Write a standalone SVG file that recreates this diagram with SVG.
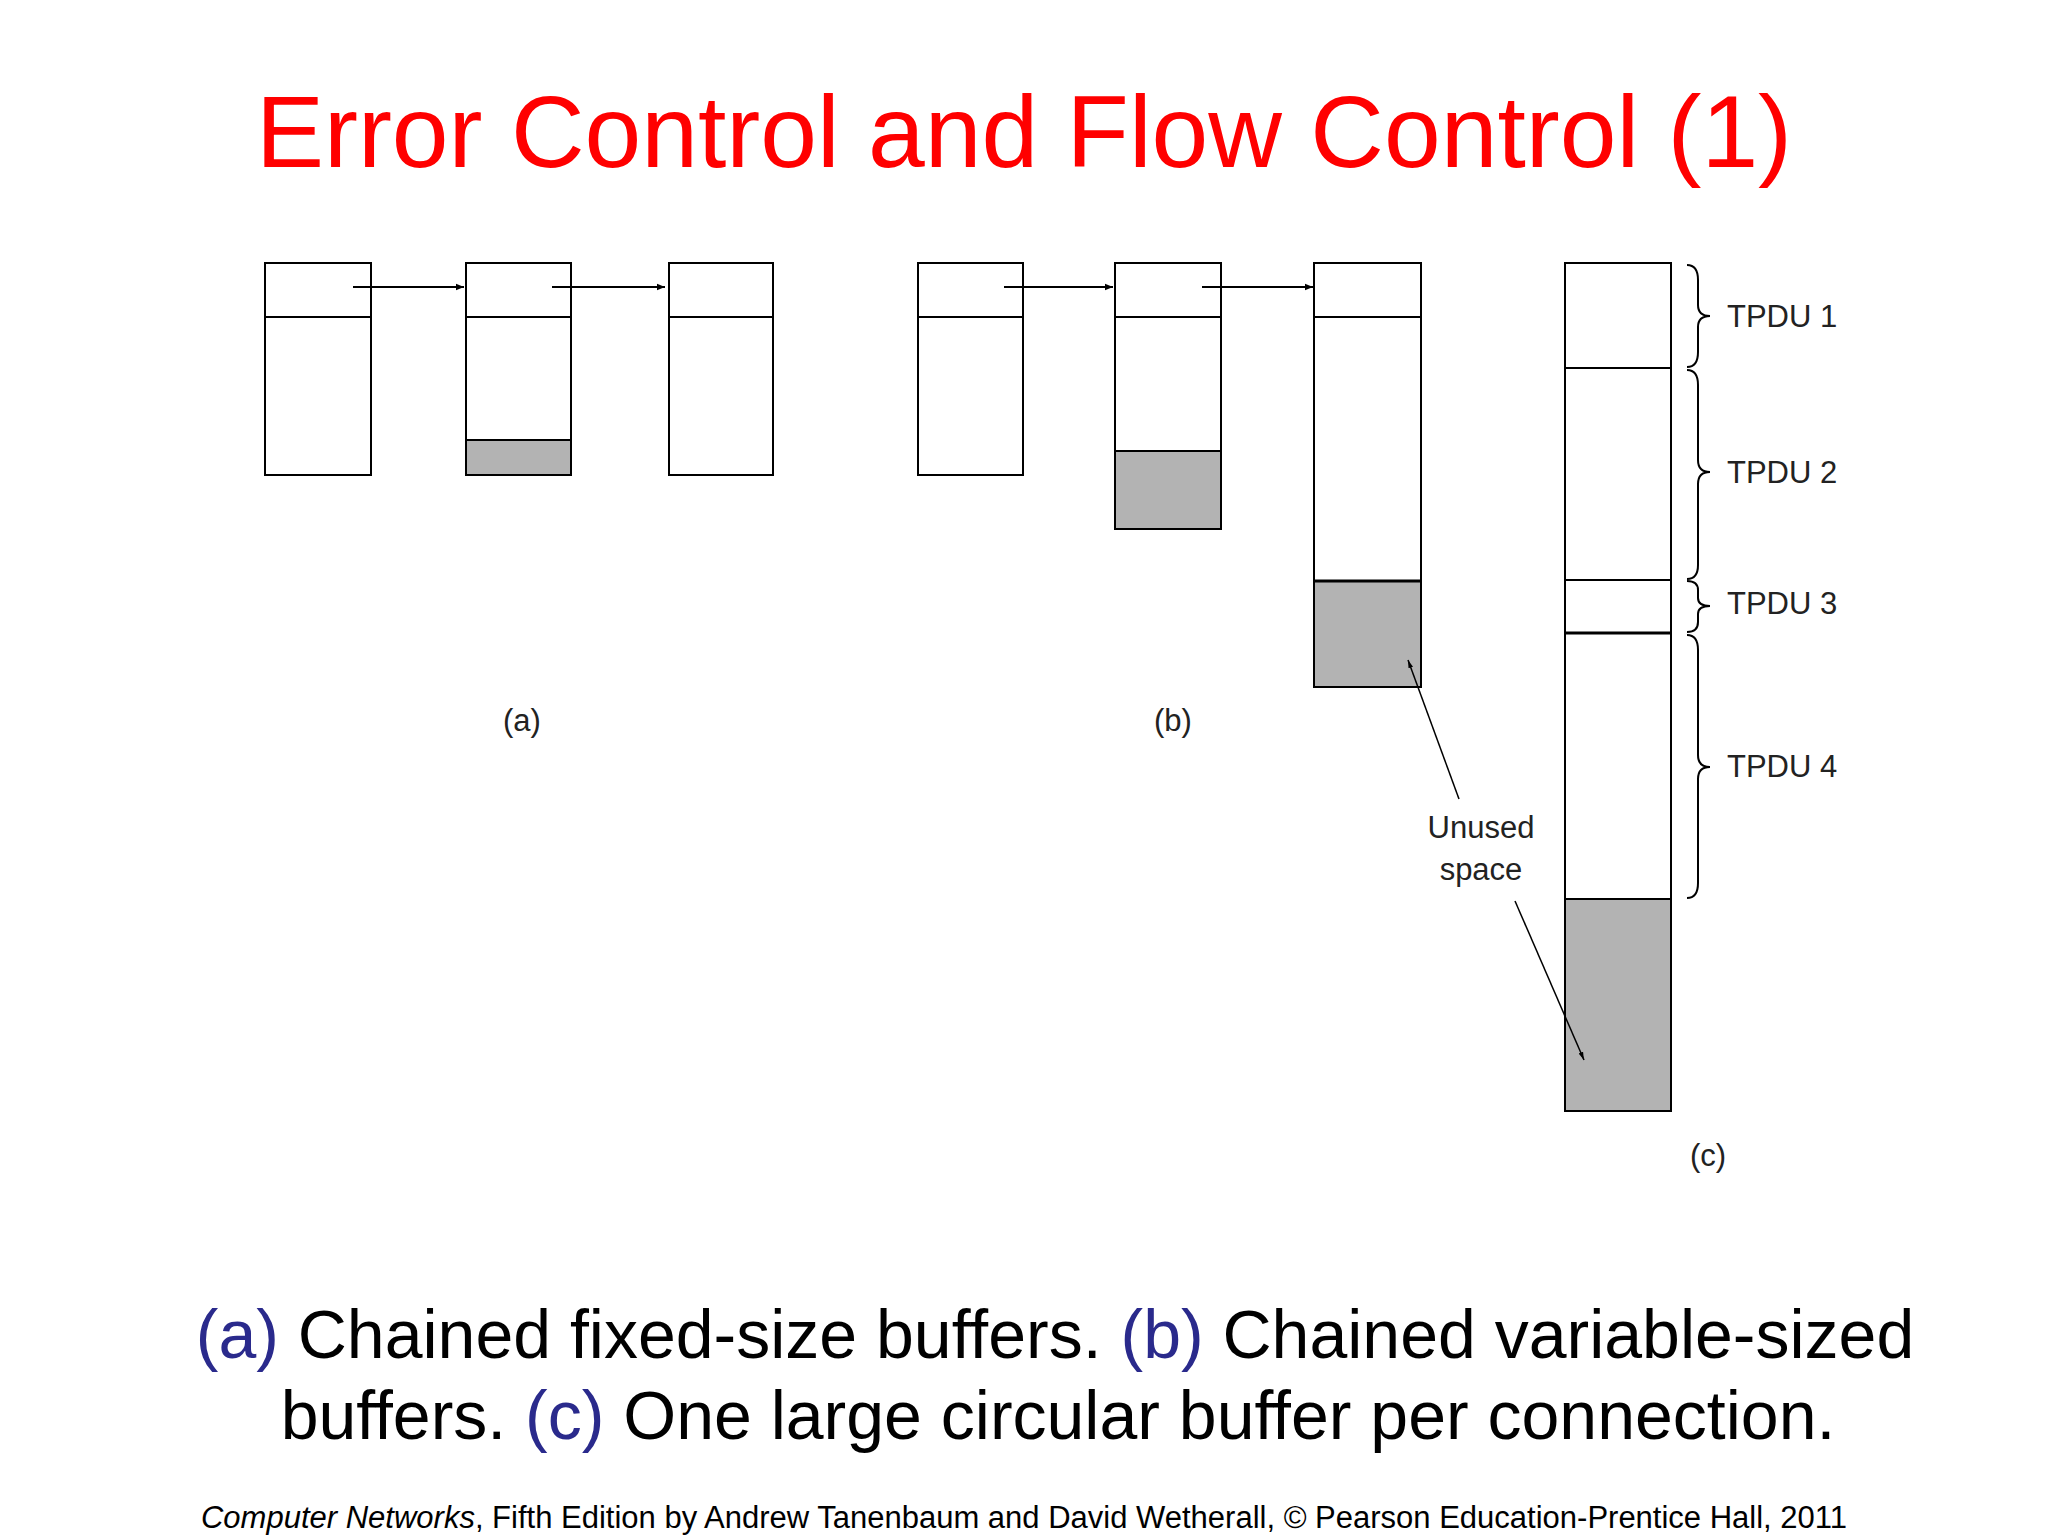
<svg xmlns="http://www.w3.org/2000/svg" width="2048" height="1536" viewBox="0 0 2048 1536">
<defs>
<style>
.b{fill:#fff;stroke:#000;stroke-width:2}
.g{fill:#b3b3b3;stroke:#000;stroke-width:2}
.l{stroke:#000;stroke-width:2;fill:none}
.t{font-family:"Liberation Sans",Arial,sans-serif;fill:#222}
.blue{fill:#2a2a8c}
</style>
<marker id="ah" viewBox="0 0 10 10" refX="10" refY="5" markerWidth="10" markerHeight="8" markerUnits="userSpaceOnUse" orient="auto"><path d="M0,1 L10,5 L0,9 z" fill="#000"/></marker>
<marker id="ah2" viewBox="0 0 10 10" refX="10" refY="5" markerWidth="8" markerHeight="18" markerUnits="userSpaceOnUse" orient="auto"><path d="M0,2 L10,5 L0,8 z" fill="#000"/></marker>
</defs>
<rect width="2048" height="1536" fill="#fff"/>
<text x="1024" y="167" text-anchor="middle" font-family="Liberation Sans,Arial,sans-serif" font-size="102" fill="#f00">Error Control and Flow Control (1)</text>
<g id="a1"><rect class="b" x="265" y="263" width="106" height="212"/><line class="l" x1="265" y1="317" x2="371" y2="317"/></g>
<g id="a2"><rect class="b" x="466" y="263" width="105" height="212"/><line class="l" x1="466" y1="317" x2="571" y2="317"/><rect class="g" x="466" y="440" width="105" height="35"/></g>
<g id="a3"><rect class="b" x="669" y="263" width="104" height="212"/><line class="l" x1="669" y1="317" x2="773" y2="317"/></g>
<g id="b1"><rect class="b" x="918" y="263" width="105" height="212"/><line class="l" x1="918" y1="317" x2="1023" y2="317"/></g>
<g id="b2"><rect class="b" x="1115" y="263" width="106" height="266"/><line class="l" x1="1115" y1="317" x2="1221" y2="317"/><rect class="g" x="1115" y="451" width="106" height="78"/></g>
<g id="b3"><rect class="b" x="1314" y="263" width="107" height="424"/><line class="l" x1="1314" y1="317" x2="1421" y2="317"/><rect class="g" x="1314" y="581" width="107" height="106"/><line x1="1314" y1="581" x2="1421" y2="581" stroke="#000" stroke-width="3"/></g>
<g id="c"><rect class="b" x="1565" y="263" width="106" height="848"/><line class="l" x1="1565" y1="368" x2="1671" y2="368"/><line class="l" x1="1565" y1="580" x2="1671" y2="580"/><line x1="1565" y1="633" x2="1671" y2="633" stroke="#000" stroke-width="3"/><rect class="g" x="1565" y="899" width="106" height="212"/></g>
<g id="braces" class="l" stroke-width="1.5">
<path class="l" d="M1687,265 Q1698,265 1698,280 L1698,305 Q1698,316 1710,316 Q1698,316 1698,327 L1698,352 Q1698,367 1687,367"/>
<path class="l" d="M1687,370 Q1698,370 1698,385 L1698,460 Q1698,472 1710,472 Q1698,472 1698,484 L1698,565 Q1698,579 1687,579"/>
<path class="l" d="M1687,581 Q1698,581 1698,590 L1698,598 Q1698,606 1710,606 Q1698,606 1698,614 L1698,622 Q1698,632 1687,632"/>
<path class="l" d="M1687,635 Q1698,635 1698,650 L1698,755 Q1698,767 1710,767 Q1698,767 1698,779 L1698,883 Q1698,898 1687,898"/>
</g>
<g id="labels" class="t" font-size="31">
<text x="1727" y="327">TPDU 1</text>
<text x="1727" y="483">TPDU 2</text>
<text x="1727" y="614">TPDU 3</text>
<text x="1727" y="777">TPDU 4</text>
<text x="522" y="731" text-anchor="middle">(a)</text>
<text x="1173" y="731" text-anchor="middle">(b)</text>
<text x="1708" y="1166" text-anchor="middle">(c)</text>
<text x="1481" y="838" text-anchor="middle">Unused</text>
<text x="1481" y="880" text-anchor="middle">space</text>
</g>
<g id="connectors" class="l">
<line x1="353" y1="287" x2="464" y2="287" marker-end="url(#ah)"/>
<line x1="552" y1="287" x2="665" y2="287" marker-end="url(#ah)"/>
<line x1="1004" y1="287" x2="1113" y2="287" marker-end="url(#ah)"/>
<line x1="1202" y1="287" x2="1313" y2="287" marker-end="url(#ah)"/>
<line x1="1459" y1="799" x2="1408" y2="660" marker-end="url(#ah2)" stroke-width="1.5"/>
<line x1="1515" y1="901" x2="1584" y2="1060" marker-end="url(#ah2)" stroke-width="1.5"/>
</g>
<g id="caption" font-family="Liberation Sans,Arial,sans-serif" font-size="68" fill="#000">
<text x="1055" y="1358" text-anchor="middle"><tspan class="blue">(a)</tspan> Chained fixed-size buffers. <tspan class="blue">(b)</tspan> Chained variable-sized</text>
<text x="1058" y="1439" text-anchor="middle">buffers. <tspan class="blue">(c)</tspan> One large circular buffer per connection.</text>
</g>
<text x="1024" y="1528" text-anchor="middle" font-family="Liberation Sans,Arial,sans-serif" font-size="31" fill="#000"><tspan font-style="italic">Computer Networks</tspan>, Fifth Edition by Andrew Tanenbaum and David Wetherall, © Pearson Education-Prentice Hall, 2011</text>
</svg>
